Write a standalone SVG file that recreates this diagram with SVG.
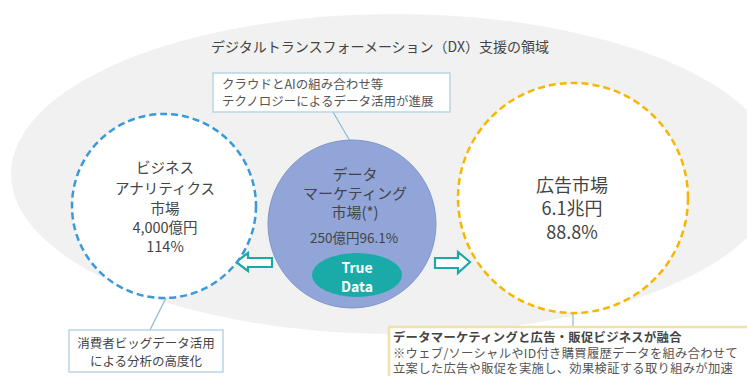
<svg xmlns="http://www.w3.org/2000/svg" width="747" height="376" viewBox="0 0 747 376">
<style>
.t{font-family:"Noto Sans CJK JP","Noto Sans",sans-serif;fill:#444;text-anchor:middle}
.s{font-family:"Noto Sans CJK JP","Noto Sans",sans-serif;fill:#555}
.box{fill:#fff;stroke:#b9d3e6;stroke-width:1.5}
.lead{stroke:#8bb8d6;stroke-width:1.2;fill:none}
.arr{fill:#fff;stroke:#1aa9a6;stroke-width:2.2;stroke-linejoin:miter}
</style>
<rect width="747" height="376" fill="#fff"/>
<g id="dx-area">
<ellipse cx="395" cy="174" rx="384" ry="160" fill="#f1f1f1"/>
<text class="t" x="380" y="52" font-size="14" fill="#555">デジタルトランスフォーメーション（DX）支援の領域</text>
</g>
<g id="connectors">
<line class="lead" x1="333" y1="112" x2="350" y2="141"/>
<line class="lead" x1="166" y1="298" x2="150" y2="330"/>
<line class="lead" x1="573" y1="313" x2="573" y2="327"/>
<path class="arr" d="M236,262 L248,253 L248,258 L272,258 L272,267 L248,267 L248,271 Z"/>
<path class="arr" d="M470,262 L458,252 L458,258 L435,258 L435,268 L458,268 L458,273 Z"/>
</g>
<g id="ba-market">
<circle cx="164" cy="206" r="92" fill="#fff" stroke="#3a9ad9" stroke-width="2.5" stroke-dasharray="7 4"/>
<text class="t" font-size="14.5"><tspan x="165" y="173">ビジネス</tspan><tspan x="165" y="194">アナリティクス</tspan><tspan x="165" y="214">市場</tspan><tspan x="165" y="233">4,000億円</tspan><tspan x="165" y="252">114%</tspan></text>
</g>
<g id="dm-market">
<circle cx="352" cy="224" r="84" fill="#91a5d8" stroke="#8096cc" stroke-width="1"/>
<text class="t" font-size="15" fill="#333"><tspan x="355" y="180">データ</tspan><tspan x="355" y="199">マーケティング</tspan><tspan x="355" y="218">市場(*)</tspan></text>
<text class="t" font-size="13.5" fill="#333" x="354" y="243">250億円96.1%</text>
</g>
<g id="truedata">
<ellipse cx="357" cy="275" rx="45" ry="22" fill="#1aaba8"/>
<text class="t" font-size="14" font-weight="bold" style="fill:#fff"><tspan x="357" y="273">True</tspan><tspan x="357" y="292">Data</tspan></text>
</g>
<g id="ad-market">
<circle cx="573" cy="198" r="115" fill="#fff" stroke="#f5b700" stroke-width="2.5" stroke-dasharray="7 4"/>
<text class="t" font-size="18"><tspan x="572" y="192">広告市場</tspan><tspan x="572" y="215">6.1兆円</tspan><tspan x="572" y="239">88.8%</tspan></text>
</g>
<g id="note-tech">
<rect class="box" x="213" y="73" width="237" height="39"/>
<text class="s" font-size="12.5"><tspan x="222" y="89">クラウドとAIの組み合わせ等</tspan><tspan x="222" y="106">テクノロジーによるデータ活用が進展</tspan></text>
</g>
<g id="note-consumer">
<rect class="box" x="69" y="330" width="154" height="42"/>
<text class="t" font-size="12.5" fill="#555"><tspan x="146" y="348">消費者ビッグデータ活用</tspan><tspan x="146" y="366">による分析の高度化</tspan></text>
</g>
<g id="note-fusion">
<rect x="389" y="327" width="370" height="60" fill="#fff" stroke="#f3e2a8" stroke-width="2.5"/>
<text class="s" font-size="12.3" letter-spacing="0.3"><tspan x="393" y="342" font-weight="bold" fill="#444">データマーケティングと広告・販促ビジネスが融合</tspan><tspan x="393" y="357.5">※ウェブ/ソーシャルやID付き購買履歴データを組み合わせて</tspan><tspan x="393" y="373">立案した広告や販促を実施し、効果検証する取り組みが加速</tspan></text>
</g>
</svg>
